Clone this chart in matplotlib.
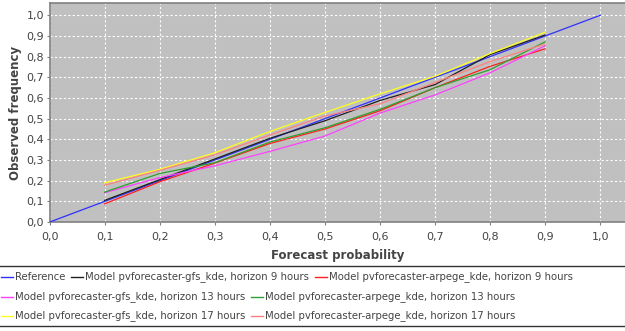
import matplotlib
matplotlib.use("Agg")
import matplotlib.pyplot as plt
from matplotlib.lines import Line2D
from matplotlib.ticker import FuncFormatter, MultipleLocator

plt.rcParams['font.family'] = ['DejaVu Sans']

# data
prob = [0.1, 0.2, 0.3, 0.4, 0.5, 0.6, 0.7, 0.8, 0.9]
ref_x = [0.0, 1.0]
ref_y = [0.0, 1.0]
gfs_9 = [0.105, 0.205, 0.305, 0.405, 0.49, 0.588, 0.665, 0.81, 0.905]
arpege_9 = [0.088, 0.195, 0.285, 0.38, 0.45, 0.538, 0.65, 0.753, 0.838]
gfs_13 = [0.142, 0.215, 0.272, 0.342, 0.416, 0.527, 0.615, 0.722, 0.853]
arpege_13 = [0.145, 0.235, 0.287, 0.387, 0.456, 0.545, 0.65, 0.737, 0.872]
gfs_17 = [0.19, 0.255, 0.335, 0.438, 0.53, 0.62, 0.705, 0.815, 0.918]
arpege_17 = [0.178, 0.25, 0.325, 0.421, 0.513, 0.572, 0.675, 0.776, 0.862]

series = [
    ("Model pvforecaster-gfs_kde, horizon 9 hours", gfs_9, "#202020"),
    ("Model pvforecaster-arpege_kde, horizon 9 hours", arpege_9, "#ff2020"),
    ("Model pvforecaster-gfs_kde, horizon 13 hours", gfs_13, "#ff40ff"),
    ("Model pvforecaster-arpege_kde, horizon 13 hours", arpege_13, "#30a030"),
    ("Model pvforecaster-gfs_kde, horizon 17 hours", gfs_17, "#ffff20"),
    ("Model pvforecaster-arpege_kde, horizon 17 hours", arpege_17, "#ff8080"),
]
ref_color = "#3030ff"

fig = plt.figure(figsize=(6.25, 3.31), dpi=100)
ax = fig.add_axes([0.0792, 0.329, 0.9208, 0.661])
ax.set_facecolor("#c0c0c0")

ax.plot(ref_x, ref_y, color=ref_color, lw=0.9, zorder=3)
for name, vals, col in series:
    ax.plot(prob, vals, color=col, lw=0.9, zorder=3)

ax.set_xlim(0, 1.045)
ax.set_ylim(0, 1.058)
ax.xaxis.set_major_locator(MultipleLocator(0.1))
ax.yaxis.set_major_locator(MultipleLocator(0.1))
fmt = FuncFormatter(lambda v, p: f"{v:.1f}".replace(".", ","))
ax.xaxis.set_major_formatter(fmt)
ax.yaxis.set_major_formatter(fmt)
ax.grid(True, color="white", linestyle=(0, (2, 2)), lw=0.8)
ax.set_axisbelow(True)

ax.spines["right"].set_visible(False)
for s in ["left", "bottom", "top"]:
    ax.spines[s].set_color("#808080")
    ax.spines[s].set_linewidth(1.2)
ax.tick_params(axis="both", colors="#808080", labelcolor="#444444",
               labelsize=8, length=2, width=0.8)
ax.tick_params(axis="x", pad=5)
ax.tick_params(axis="y", pad=2)

ax.set_xlabel("Forecast probability", fontsize=8.5, fontweight="bold",
              color="#444444", labelpad=5)
ax.set_ylabel("Observed frequency", fontsize=8.5, fontweight="bold",
              color="#444444", labelpad=3)

# legend laid out in rows like the original
colors = [ref_color] + [c for _, _, c in series]
labels = ["Reference"] + [n for n, _, _ in series]
rows = [[0, 1, 2], [3, 4], [5, 6]]

fig.add_artist(Line2D([0, 1], [1 - 266 / 331, 1 - 266 / 331], color="#333333", lw=1.0))
fig.add_artist(Line2D([0, 1], [1 - 326 / 331, 1 - 326 / 331], color="#333333", lw=1.0))

row_y = [277, 297, 316]
renderer = fig.canvas.get_renderer()
for r, idxs in enumerate(rows):
    y = 1 - row_y[r] / 331
    x = 1 / 625
    for i in idxs:
        fig.add_artist(Line2D([x, x + 12 / 625], [y, y], color=colors[i], lw=1.0))
        t = fig.text(x + 14 / 625, y, labels[i], fontsize=7.3, color="#444444",
                     va="center", ha="left")
        w = t.get_window_extent(renderer=renderer).width
        x = x + 14 / 625 + w / 625 + 6 / 625

fig.savefig("out.png", dpi=100)
